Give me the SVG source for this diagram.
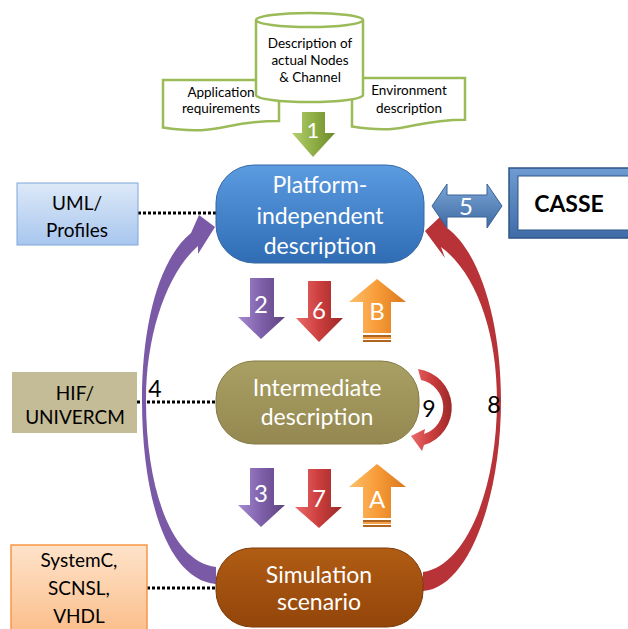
<svg xmlns="http://www.w3.org/2000/svg" width="628" height="629" viewBox="0 0 628 629">
<defs>
<linearGradient id="gBlue" x1="0" y1="0" x2="0" y2="1"><stop offset="0" stop-color="#5b9be0"/><stop offset="1" stop-color="#2f6cb4"/></linearGradient>
<linearGradient id="gOlive" x1="0" y1="0" x2="0" y2="1"><stop offset="0" stop-color="#a9a064"/><stop offset="1" stop-color="#948850"/></linearGradient>
<linearGradient id="gBrown" x1="0" y1="0" x2="0" y2="1"><stop offset="0" stop-color="#b05c14"/><stop offset="1" stop-color="#93450a"/></linearGradient>
<linearGradient id="gUml" x1="0" y1="0" x2="0" y2="1"><stop offset="0" stop-color="#dde9f8"/><stop offset="1" stop-color="#a8c6ee"/></linearGradient>
<linearGradient id="gSys" x1="0" y1="0" x2="0" y2="1"><stop offset="0" stop-color="#fee3ca"/><stop offset="1" stop-color="#fbbd8a"/></linearGradient>
<linearGradient id="gPurple" x1="0" y1="0" x2="1" y2="0"><stop offset="0" stop-color="#a68bd0"/><stop offset="0.5" stop-color="#7e60aa"/><stop offset="1" stop-color="#5e437f"/></linearGradient>
<linearGradient id="gRed" x1="0" y1="0" x2="1" y2="0"><stop offset="0" stop-color="#ea6a6a"/><stop offset="0.5" stop-color="#cc3e3e"/><stop offset="1" stop-color="#9c2828"/></linearGradient>
<linearGradient id="gOrange" x1="0" y1="0" x2="1" y2="0"><stop offset="0" stop-color="#fcc06a"/><stop offset="0.5" stop-color="#f79b38"/><stop offset="1" stop-color="#d9781c"/></linearGradient>
<linearGradient id="gGreen" x1="0" y1="0" x2="1" y2="0"><stop offset="0" stop-color="#b5cf70"/><stop offset="0.5" stop-color="#8fae45"/><stop offset="1" stop-color="#6a8a2c"/></linearGradient>
<linearGradient id="gArr5" x1="0" y1="0" x2="0" y2="1"><stop offset="0" stop-color="#7aa5d6"/><stop offset="1" stop-color="#3d6aa3"/></linearGradient>
<linearGradient id="gFrame" x1="0" y1="0" x2="0" y2="1"><stop offset="0" stop-color="#6f9bd2"/><stop offset="1" stop-color="#3f6ca8"/></linearGradient>
</defs>
<style>
.t{font-family:Lato,"Liberation Sans",sans-serif;text-anchor:middle}
.sm{font-size:13.5px;fill:#000}
.big{font-size:23px;fill:#fff}
.side{font-size:19px;fill:#000}
.numw{font-size:24px;fill:#fff}
.numb{font-size:23px;fill:#000}
.doc{fill:#fff;stroke:#9bbb59;stroke-width:2.5}
.dot{stroke:#000;stroke-width:3;stroke-dasharray:3 2;fill:none}
</style>

<g id="connectors">
<line class="dot" x1="138" y1="213" x2="216" y2="213"/>
<line class="dot" x1="137" y1="402" x2="216" y2="402"/>
<line class="dot" x1="147" y1="588" x2="218" y2="588"/>
<path id="arrow4" fill="#7a5aa6" d="M216 567 C172 562 146 490 146 400 C146 332 168 272 198 246 L198 254 L215 227 L199 215 L191 233 C160 258 142 322 142 400 C142 500 168 580 216 584 Z"/>
<path id="arrow8" fill="#b83338" d="M423 572 C466 566 497 490 497 400 C497 330 475 272 441 247 L445 258 L425 231 L442 215 L447 228 C480 252 501 322 501 400 C501 500 468 588 423 591 Z"/>
<g id="arrow1"><path fill="url(#gGreen)" d="M302 112 H325 V133 H335 L313 157 L292 133 H302 Z"/><text class="t numw" x="313" y="138" style="font-size:22px">1</text></g>
<g id="arrow2"><path fill="url(#gPurple)" d="M250 278 H274 V317 H285 L261 339 L238 317 H250 Z"/><text class="t numw" x="261" y="313">2</text></g>
<g id="arrow6"><path fill="url(#gRed)" d="M308 281 H331 V318 H343 L319 342 L296 318 H308 Z"/><text class="t numw" x="319" y="319">6</text></g>
<g id="arrowB"><path fill="url(#gOrange)" d="M377 279 L406 302 H391 V333 H363 V302 H349 Z"/><rect x="363" y="335" width="28" height="2" fill="#b0651e"/><rect x="363" y="337" width="28" height="2" fill="#f7a04a"/><rect x="363" y="340" width="28" height="2" fill="#b0651e"/><text class="t numw" x="377" y="320">B</text></g>
<g id="arrow3"><path fill="url(#gPurple)" d="M250 468 H274 V505 H285 L261 527 L238 505 H250 Z"/><text class="t numw" x="261" y="502">3</text></g>
<g id="arrow7"><path fill="url(#gRed)" d="M308 469 H331 V507 H342 L319 528 L295 507 H308 Z"/><text class="t numw" x="319" y="507">7</text></g>
<g id="arrowA"><path fill="url(#gOrange)" d="M377 464 L406 487 H391 V518 H363 V487 H349 Z"/><rect x="363" y="520" width="28" height="2" fill="#b0651e"/><rect x="363" y="522" width="28" height="2" fill="#f7a04a"/><rect x="363" y="525" width="28" height="2" fill="#b0651e"/><text class="t numw" x="377" y="508">A</text></g>
<g id="arrow5"><path fill="url(#gArr5)" stroke="#3a6296" stroke-width="1" d="M432 206 L447 184 V195 H487 V184 L502 206 L487 228 V217 H447 V228 Z"/><text class="t numw" x="466" y="215">5</text></g>
<g id="arrow9"><path fill="url(#gRed)" d="M418 369 A39 39 0 0 1 424 445 L422 451 L411 436 L425 429 L424 434 A28 28 0 0 0 421 380 Z"/><text class="t numb" x="429" y="417">9</text></g>
<text class="t numb" x="155" y="397">4</text>
<text class="t numb" x="494" y="413">8</text>
</g>

<g id="appreq"><path class="doc" d="M163 80 H279 V121 C221 121 221 136.5 163 127.6 Z"/><text class="t sm" x="221" y="97">Application</text><text class="t sm" x="221" y="113">requirements</text></g>
<g id="envdesc"><path class="doc" d="M352 78 H465 V119.7 C408.5 119.7 408.5 135.6 352 126.6 Z"/><text class="t sm" x="409" y="95">Environment</text><text class="t sm" x="409" y="113">description</text></g>
<g id="nodes"><path class="doc" d="M256 20 V95 A53.5 7 0 0 0 363 95 V20 A53.5 7 0 0 0 256 20 A53.5 7 0 0 0 363 20"/><text class="t sm" x="310" y="48">Description of</text><text class="t sm" x="310" y="65">actual Nodes</text><text class="t sm" x="310" y="82">&amp; Channel</text></g>

<g id="uml"><rect x="17" y="183" width="121" height="62" fill="url(#gUml)" stroke="#7fa6d8" stroke-width="1"/><text class="t side" x="77" y="210">UML/</text><text class="t side" x="77" y="237">Profiles</text></g>
<g id="platform"><rect x="216" y="165" width="208" height="98" rx="38" fill="url(#gBlue)" stroke="#3467a6" stroke-width="1"/><text class="t big" x="320" y="193">Platform-</text><text class="t big" x="320" y="224">independent</text><text class="t big" x="320" y="254">description</text></g>
<g id="casse"><rect x="509" y="168" width="125" height="70" fill="url(#gFrame)" stroke="#2f5488" stroke-width="1.5"/><rect x="518" y="176" width="116" height="54" fill="#fff" stroke="#2f5488" stroke-width="1"/><text class="t" x="569" y="212" style="font-size:23px;font-weight:bold;fill:#000">CASSE</text></g>
<g id="hif"><rect x="12" y="372" width="125" height="61" fill="#c4bc96"/><text class="t side" x="75" y="400">HIF/</text><text class="t side" x="75" y="424">UNIVERCM</text></g>
<g id="intermediate"><rect x="216" y="361" width="203" height="83" rx="38" fill="url(#gOlive)" stroke="#857a45" stroke-width="1"/><text class="t big" x="317" y="396">Intermediate</text><text class="t big" x="317" y="425">description</text></g>
<g id="systemc"><rect x="11" y="545" width="136" height="90" fill="url(#gSys)" stroke="#f79646" stroke-width="1.5"/><text class="t side" x="79" y="567">SystemC,</text><text class="t side" x="79" y="595">SCNSL,</text><text class="t side" x="79" y="623">VHDL</text></g>
<g id="simulation"><rect x="216" y="548" width="207" height="79" rx="36" fill="url(#gBrown)" stroke="#7e3a08" stroke-width="1"/><text class="t big" x="319" y="583">Simulation</text><text class="t big" x="319" y="610">scenario</text></g>
</svg>
